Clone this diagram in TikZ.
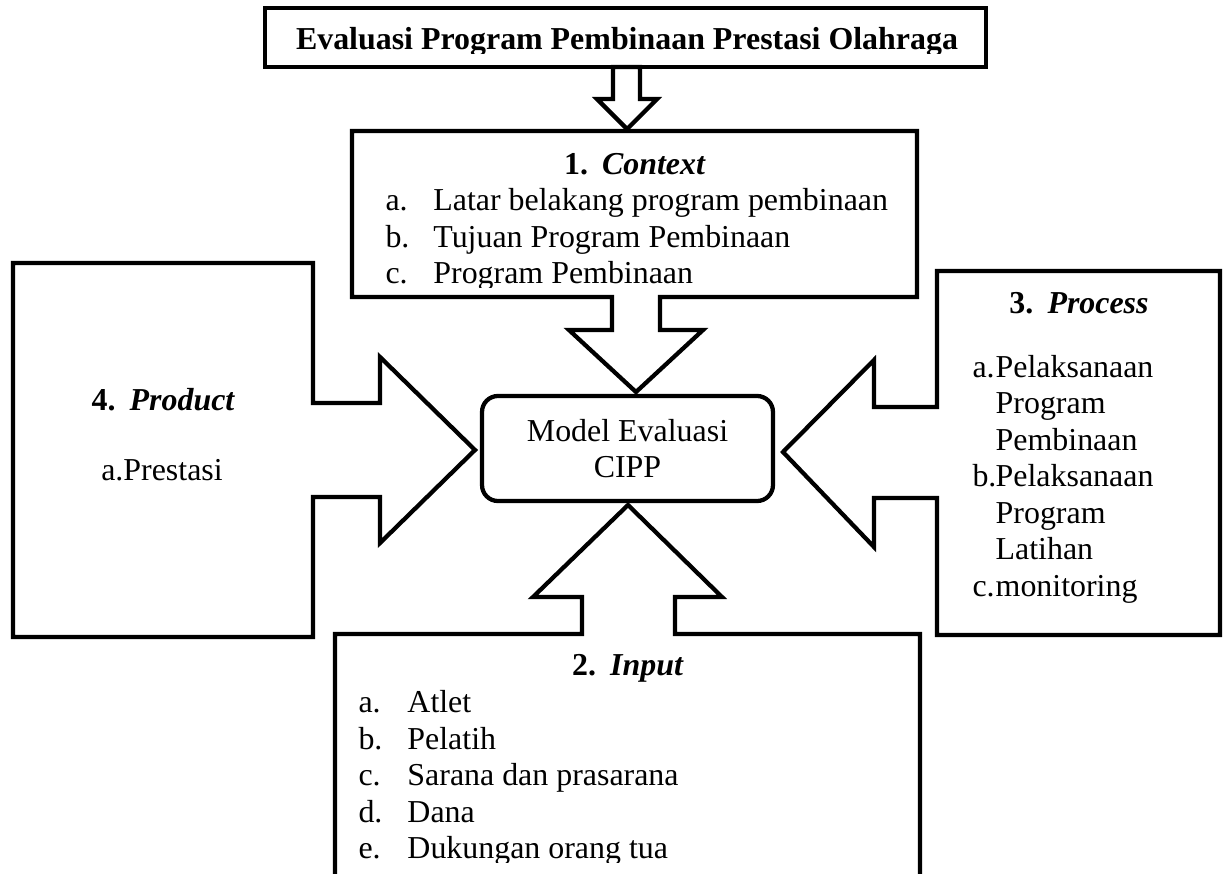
\documentclass[tikz,border=0pt]{standalone}
\usepackage{fontspec}
\setmainfont{Liberation Serif}
\usetikzlibrary{positioning}

\tikzset{
  outline/.style={line width=1.6pt, line join=miter},
  txt/.style={inner sep=0pt, font=\fontsize{12}{13.75}\selectfont},
  cippbox/.style={draw, line width=1.6pt, rounded corners=6pt, inner sep=0pt,
    minimum width=109.4pt, minimum height=39.5pt, align=center,
    font=\fontsize{12}{13.75}\selectfont}
}

\begin{document}
\begin{tikzpicture}[x=0.376pt, y=-0.376pt]
				\useasboundingbox (0,0) rectangle (1225,873);
				% title
				\draw[outline] (265,8) rectangle (986,67);
				\begin{scope}
				\clip (265,8) rectangle (986,53);
				\node[txt, anchor=base] (title) at (627,49.5) {\bfseries Evaluasi Program Pembinaan Prestasi Olahraga};
				\end{scope}
				\draw[outline] (613,67) -- (613,99) -- (597,99) -- (627,129) -- (657,99) -- (640,99) -- (640,67) -- cycle;
				% context
				\draw[outline] (352,131) -- (917,131) -- (917,297) -- (660,297) -- (660,330) -- (703,330)
				  -- (636,392) -- (569,330) -- (612,330) -- (612,297) -- (352,297) -- cycle;
				\node[txt, anchor=base] (ctxhead) at (634.5,174) {\bfseries 1.\hspace{5.3pt}\itshape Context};
				\begin{scope}
				\clip (352,131) rectangle (917,287);
				\node[txt, anchor=base west] (ctxlist) at (385,210.5) {\begin{tabular}[t]{@{}l@{}}
				  \makebox[18pt][l]{a.}Latar belakang program pembinaan\\
				  \makebox[18pt][l]{b.}Tujuan Program Pembinaan\\
				  \makebox[18pt][l]{c.}Program Pembinaan
				\end{tabular}};
				\end{scope}
				% product
				\draw[outline] (13,263) -- (313,263) -- (313,403) -- (380,403) -- (380,357) -- (475,450)
				  -- (380,543) -- (380,497) -- (313,497) -- (313,637) -- (13,637) -- cycle;
				\node[txt, anchor=base] (prodhead) at (163,410.5) {\bfseries 4.\hspace{5.3pt}\itshape Product};
				\node[txt, anchor=base] (prodlist) at (162,480) {a.Prestasi};
				% process
				\draw[outline] (937,271) -- (1220,271) -- (1220,635) -- (937,635) -- (937,498) -- (874,498)
				  -- (874,547) -- (783,452) -- (874,360) -- (874,407) -- (937,407) -- cycle;
				\node[txt, anchor=base] (prochead) at (1079,313) {\bfseries 3.\hspace{5.3pt}\itshape Process};
				\node[txt, anchor=base west] (proclist) at (972,377) {\begin{tabular}[t]{@{}l@{}}
				  \makebox[8.7pt][l]{a.}Pelaksanaan\\
				  \hspace*{8.7pt}Program\\
				  \hspace*{8.7pt}Pembinaan\\
				  \makebox[8.7pt][l]{b.}Pelaksanaan\\
				  \hspace*{8.7pt}Program\\
				  \hspace*{8.7pt}Latihan\\
				  \makebox[8.7pt][l]{c.}monitoring
				\end{tabular}};
				% input
				\draw[outline] (335,900) -- (335,634) -- (582,634) -- (582,597) -- (533,597) -- (628,505)
				  -- (722,597) -- (675,597) -- (675,634) -- (920,634) -- (920,900);
				\node[txt, anchor=base] (inhead) at (627.5,675) {\bfseries 2.\hspace{5.3pt}\itshape Input};
				\begin{scope}
				\clip (335,634) rectangle (920,862);
				\node[txt, anchor=base west] (inlist) at (358,712.5) {\begin{tabular}[t]{@{}l@{}}
				  \makebox[18.4pt][l]{a.}Atlet\\
				  \makebox[18.4pt][l]{b.}Pelatih\\
				  \makebox[18.4pt][l]{c.}Sarana dan prasarana\\
				  \makebox[18.4pt][l]{d.}Dana\\
				  \makebox[18.4pt][l]{e.}Dukungan orang tua
				\end{tabular}};
				\end{scope}
				% centre
				\node[cippbox] (cipp) at (627.5,448.5) {Model Evaluasi\\CIPP};
			\end{tikzpicture}
\end{document}
